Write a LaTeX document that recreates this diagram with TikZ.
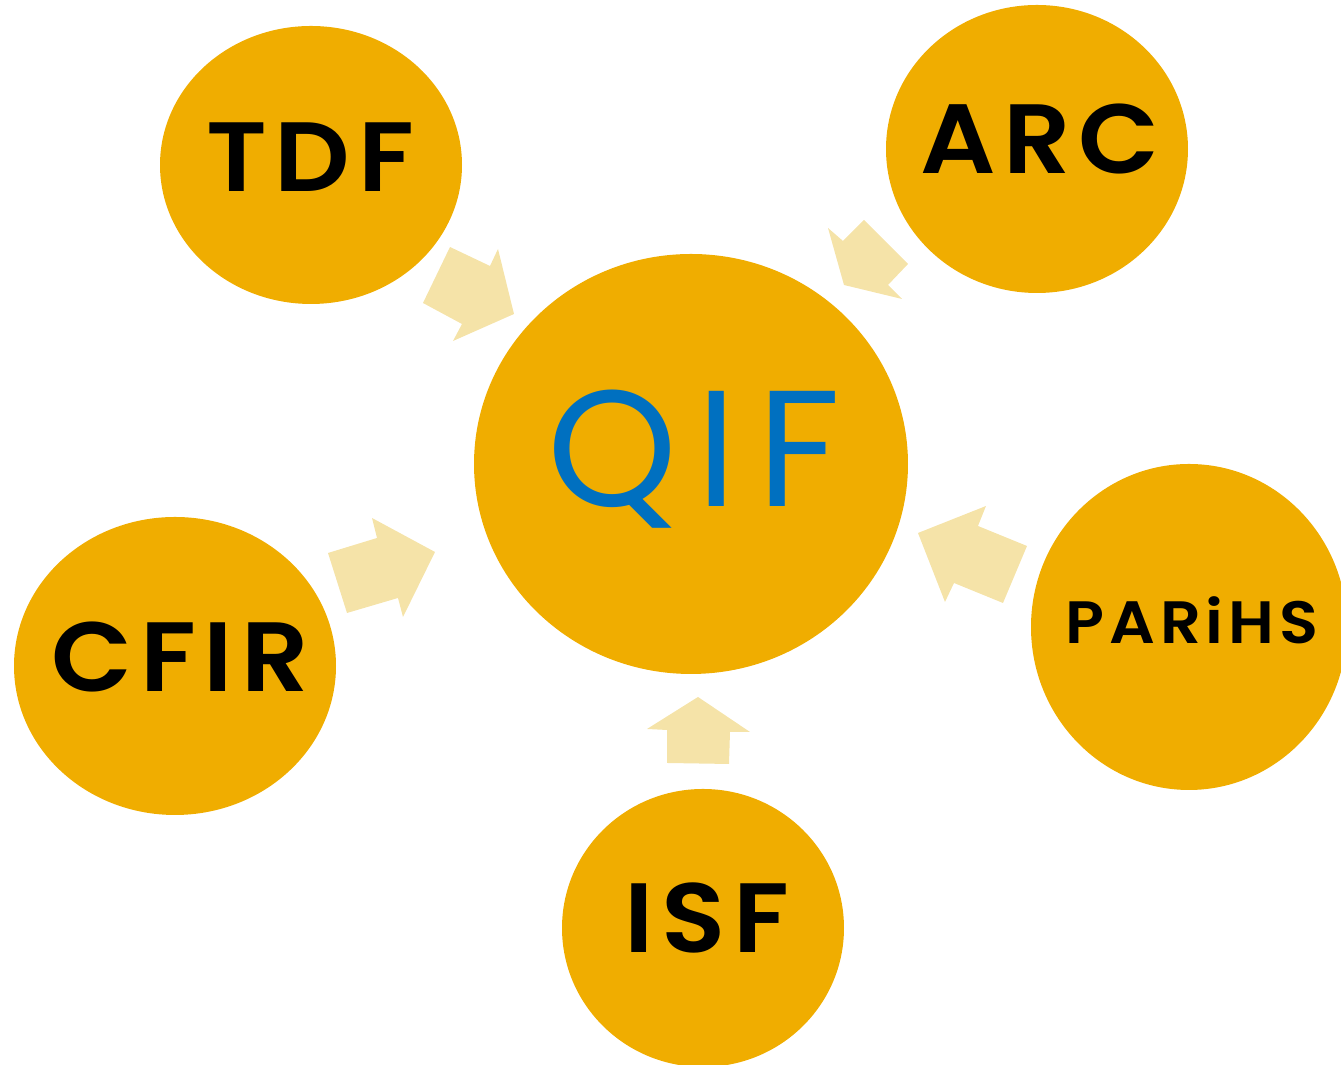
\documentclass[tikz,border=0pt]{standalone}
\usepackage{fontspec}
\setmainfont{Poppins}
\newfontfamily\labfont{Poppins SemiBold}[LetterSpace=8,FakeStretch=1.07]
\newfontfamily\hubfont{Poppins}[LetterSpace=12]
\definecolor{gold}{HTML}{F0AD00}
\definecolor{paleGold}{HTML}{F5E3A8}
\definecolor{hubBlue}{HTML}{0070C0}
\begin{document}
\begin{tikzpicture}[x=0.01cm,y=-0.01cm,
  blockarrow/.style={fill=paleGold,draw=none},
  lab/.style={font=\labfont\fontsize{28}{30}\selectfont,text=black},
  hub/.style={font=\hubfont\fontsize{47}{50}\selectfont,text=hubBlue}]
\useasboundingbox (0,0) rectangle (1341,1065);
% bubbles
\fill[gold] (691,464) ellipse [x radius=217,y radius=210];
\fill[gold] (311,165) ellipse [x radius=151,y radius=139];
\fill[gold] (1037,149) ellipse [x radius=151,y radius=144];
\fill[gold] (175,666) ellipse [x radius=161,y radius=149];
\fill[gold] (1189,627) ellipse [x radius=158,y radius=163];
\fill[gold] (703,928) ellipse [x radius=141,y radius=139];
% labels
\node[hub] (qif) at (694,459) {QIF};
\node[lab] (tdf) at (310,157) {TDF};
\node[lab] (arc) at (1040,139) {ARC};
\node[lab] (cfir) at (180,657) {CFIR};
\node[lab,font=\labfont\fontsize{17}{19}\selectfont] (parihs) at (1192,620) {PARiHS};
\node[lab] (isf) at (707,918) {ISF};
% arrows pointing to the hub
\fill[blockarrow] (450,247) -- (490,266) -- (498,249) -- (514,314) -- (453,341) -- (462,324) -- (423,303) -- cycle;
\fill[blockarrow] (828,228) -- (843,241) -- (864,220) -- (908,264) -- (888,285) -- (902,299) -- (844,285) -- cycle;
\fill[blockarrow] (328,553) -- (377,538) -- (372,518) -- (435,552) -- (403,617) -- (398,598) -- (347,613) -- cycle;
\fill[blockarrow] (918,533) -- (986,506) -- (978,526) -- (1027,546) -- (1003,603) -- (954,583) -- (945,602) -- cycle;
\fill[blockarrow] (698,697) -- (750,732) -- (730,732) -- (729,764) -- (667,763) -- (667,730) -- (647,729) -- cycle;
\end{tikzpicture}
\end{document}
